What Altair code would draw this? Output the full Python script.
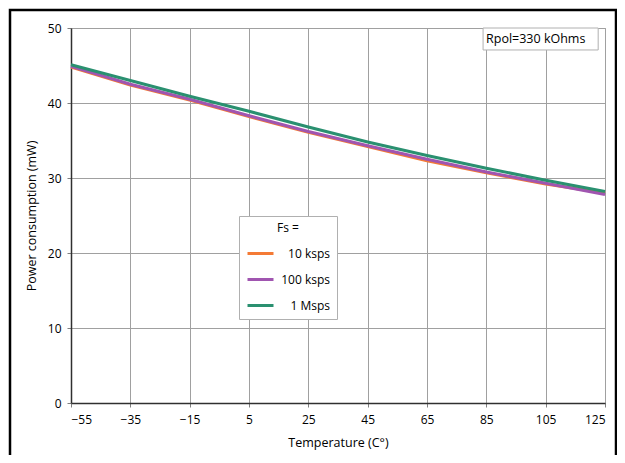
import altair as alt
import pandas as pd

temps = [-55, -35, -15, 5, 25, 45, 65, 85, 105, 125]
p_10k = [44.8, 42.4, 40.4, 38.2, 36.1, 34.2, 32.3, 30.7, 29.2, 28.0]
p_100k = [44.9, 42.5, 40.5, 38.3, 36.2, 34.3, 32.5, 30.8, 29.3, 27.8]
p_1M = [45.1, 43.0, 40.9, 38.9, 36.8, 34.8, 33.0, 31.3, 29.7, 28.2]

series_labels = ["10 ksps", "100 ksps", "1 Msps"]
series_colors = ["#f47a35", "#a055b0", "#2a9070"]

x_ticks = [-55, -35, -15, 5, 25, 45, 65, 85, 105, 125]
y_ticks = [0, 10, 20, 30, 40, 50]

annotation_text = "Rpol=330 kOhms"

rows = []
for lab, vals in zip(series_labels, [p_10k, p_100k, p_1M]):
    for t, v in zip(temps, vals):
        rows.append({"T": t, "P": v, "Fs": lab})
df = pd.DataFrame(rows)

FONT = "Open Sans"

x_scale = alt.Scale(domain=[-55, 125], nice=False, zero=False)
y_scale = alt.Scale(domain=[0, 50], nice=False)

lines = alt.Chart(df).mark_line(strokeWidth=3).encode(
    x=alt.X("T:Q", scale=x_scale,
            axis=alt.Axis(values=x_ticks, title="Temperature (C\u00b0)", format="d",
                          titleFontWeight="normal")),
    y=alt.Y("P:Q", scale=y_scale,
            axis=alt.Axis(values=y_ticks, title="Power consumption (mW)",
                          titleFontWeight="normal")),
    color=alt.Color("Fs:N",
                    scale=alt.Scale(domain=series_labels, range=series_colors),
                    sort=series_labels,
                    legend=alt.Legend(
                        title="Fs =", orient="none", legendX=168, legendY=188,
                        direction="vertical", symbolType="stroke", symbolSize=676,
                        symbolStrokeWidth=3, labelFontSize=12, labelFont=FONT,
                        titleFont=FONT, titleFontSize=12, titleFontWeight="normal",
                        titleAnchor="middle", titlePadding=4, padding=7,
                        rowPadding=5, labelOffset=55, labelAlign="right",
                        strokeColor="#b0b0b0", fillColor="white",
                        labelColor="black", titleColor="black")),
)

ann = pd.DataFrame([{"x": 83.9, "x2": 122.7, "y": 50, "y2": 47.07,
                     "tx": 84.9, "ty": 48.5, "label": annotation_text}])
ann_box = alt.Chart(ann).mark_rect(fill="white", stroke="#b0b0b0", strokeWidth=1).encode(
    x="x:Q", x2="x2:Q", y="y:Q", y2="y2:Q")
ann_text = alt.Chart(ann).mark_text(align="left", baseline="middle", fontSize=12.5,
                                    font=FONT, color="black").encode(
    x="tx:Q", y="ty:Q", text="label:N")

frame = alt.Chart(ann).mark_rect(fill=None, stroke="black", strokeWidth=2.5, clip=False).encode(
    x=alt.value(-61), x2=alt.value(545), y=alt.value(-18), y2=alt.value(470))

chart = alt.layer(lines, ann_box, ann_text, frame).properties(
    width=534, height=375,
    background="white",
    autosize=alt.AutoSizeParams(type="none"),
    padding={"left": 63, "top": 20, "right": 12, "bottom": 52},
).configure_view(
    stroke="#a0a0a0", strokeWidth=1
).configure_axis(
    labelFont=FONT, titleFont=FONT, labelFontSize=12, titleFontSize=12.5,
    titleFontWeight="normal", labelColor="black", titleColor="black",
    gridColor="#a0a0a0", gridWidth=1, tickColor="#808080", tickSize=4,
    domainColor="#303030", domainWidth=1.5, labelPadding=5,
).configure_axisY(
    titlePadding=9, labelPadding=6,
).configure_axisX(
    titlePadding=11, labelPadding=7,
)

chart.save("out.html", embed_options={"renderer": "svg", "actions": False})
